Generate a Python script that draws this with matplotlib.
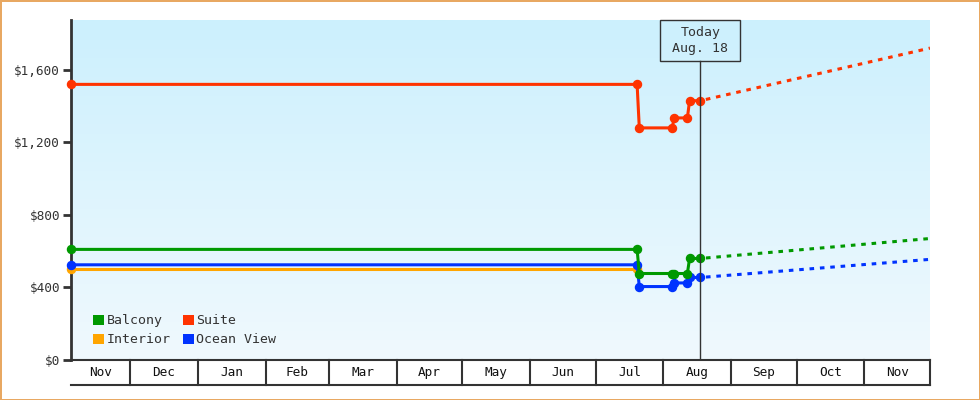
import numpy as np
import pandas as pd
import matplotlib
matplotlib.use("Agg")
import matplotlib.pyplot as plt
import matplotlib.dates as mdates
import matplotlib.transforms as mtransforms
from matplotlib.patches import Patch, Rectangle
from matplotlib.colors import LinearSegmentedColormap

plt.rcParams['font.family'] = ['DejaVu Sans Mono', 'DejaVu Sans']

# price history (same sample dates for the three cabin types that change)
hist_dates = ['2023-11-04', '2024-07-20', '2024-07-21', '2024-08-05',
              '2024-08-06', '2024-08-12', '2024-08-13', '2024-08-18']
balcony = [610, 610, 477, 477, 477, 477, 560, 560]
suite = [1520, 1520, 1280, 1280, 1335, 1335, 1430, 1430]
ocean_view = [525, 525, 405, 405, 425, 425, 455, 455]

interior_dates = ['2023-11-04', '2024-07-20']
interior = [500, 500]

# projected prices after today
proj_dates = ['2024-08-18', '2024-12-01']
balcony_proj = [560, 670]
suite_proj = [1430, 1720]
ocean_proj = [455, 555]

today = '2024-08-18'
today_label = 'Today\nAug. 18'
x_start, x_end = '2023-11-04', '2024-12-01'
y_ticks = [0, 400, 800, 1200, 1600]
y_max = 1875

colors = {'Balcony': '#009900', 'Interior': '#ffa500',
          'Suite': '#ff3300', 'Ocean View': '#0033ff'}

d = lambda s: mdates.date2num(pd.to_datetime(s))

fig = plt.figure(figsize=(9.8, 4.0), dpi=100, facecolor='white',
                 edgecolor='#e8a862', linewidth=2)
ax = fig.add_axes([71 / 980, 40 / 400, 859 / 980, 340 / 400])
ax.set_xlim(d(x_start), d(x_end))
ax.set_ylim(0, y_max)

# background gradient
cmap = LinearSegmentedColormap.from_list('bg', ['#f0f9fe', '#ccf0fd'])
grad = np.linspace(0, 1, 256).reshape(-1, 1)
ax.imshow(grad, cmap=cmap, aspect='auto', origin='lower',
          extent=[d(x_start), d(x_end), 0, y_max], zorder=0)

lw = 2.2
ms = 5.8
hx = [d(s) for s in hist_dates]
px = [d(s) for s in proj_dates]
proj_style = (1.6, (1.5, 1.9))

ax.plot([d(s) for s in interior_dates], interior, color=colors['Interior'],
        lw=lw, marker='o', ms=ms, clip_on=False, zorder=3)
for name, vals, proj in [('Ocean View', ocean_view, ocean_proj),
                         ('Balcony', balcony, balcony_proj),
                         ('Suite', suite, suite_proj)]:
    ax.plot(hx, vals, color=colors[name], lw=lw, marker='o', ms=ms,
            clip_on=False, zorder=4)
    ax.plot(px, proj, color=colors[name], lw=lw, linestyle=proj_style,
            zorder=4)

# today marker: box 80x41 px at the top of the plot
box_w, box_h = 80 / 859, 41 / 340
tx = (d(today) - d(x_start)) / (d(x_end) - d(x_start))
ax.axvline(d(today), ymin=0, ymax=1 - box_h, color='#333333',
           lw=1, zorder=5)
ax.add_patch(Rectangle((tx - box_w / 2, 1 - box_h), box_w, box_h,
                       transform=ax.transAxes, facecolor='none',
                       edgecolor='#333333', lw=1, clip_on=False, zorder=6))
ax.text(tx, 1 - box_h / 2, today_label, transform=ax.transAxes,
        ha='center', va='center', fontsize=9.5, color='#333333',
        linespacing=1.3, zorder=6)

# axes styling
for s in ['top', 'right']:
    ax.spines[s].set_visible(False)
ax.spines['left'].set_linewidth(2)
ax.spines['left'].set_color('#333333')
ax.spines['bottom'].set_linewidth(1.5)
ax.spines['bottom'].set_color('#333333')
ax.set_yticks(y_ticks)
ax.set_yticklabels([f'${v:,.0f}' for v in y_ticks])
ax.tick_params(axis='y', length=6, width=2, color='#333333', pad=2,
               labelsize=9.2, labelcolor='#333333')
ax.set_xticks([])

# month boxes under the plot
trans = mtransforms.blended_transform_factory(ax.transData, ax.transAxes)
box_bottom = -25 / 340
bounds = pd.date_range('2023-11-01', '2024-12-01', freq='MS')
x0, x1 = d(x_start), d(x_end)
edges = [x0] + [d(b) for b in bounds if x0 < d(b) < x1] + [x1]
ax.plot([x0, x1], [box_bottom, box_bottom], color='#333333', lw=1.5,
        transform=trans, clip_on=False)
for e in edges[1:]:
    ax.plot([e, e], [0, box_bottom], color='#333333', lw=1.5,
            transform=trans, clip_on=False)
for a, b in zip(edges[:-1], edges[1:]):
    label = mdates.num2date((a + b) / 2).strftime('%b')
    ax.text((a + b) / 2, box_bottom / 2, label, transform=trans,
            ha='center', va='center', fontsize=9.2, color='#111111')

# legend
handles = [Patch(facecolor=colors[n], edgecolor='none', label=n)
           for n in ['Balcony', 'Interior', 'Suite', 'Ocean View']]
ax.legend(handles=handles, ncol=2, loc='lower left',
          bbox_to_anchor=(0.02, 0.025), frameon=False, fontsize=9.5,
          handlelength=0.8, handleheight=0.8, handletextpad=0.2,
          columnspacing=0.95, labelspacing=0.45, borderaxespad=0,
          labelcolor='#333333')

fig.savefig('out.png', dpi=100)
